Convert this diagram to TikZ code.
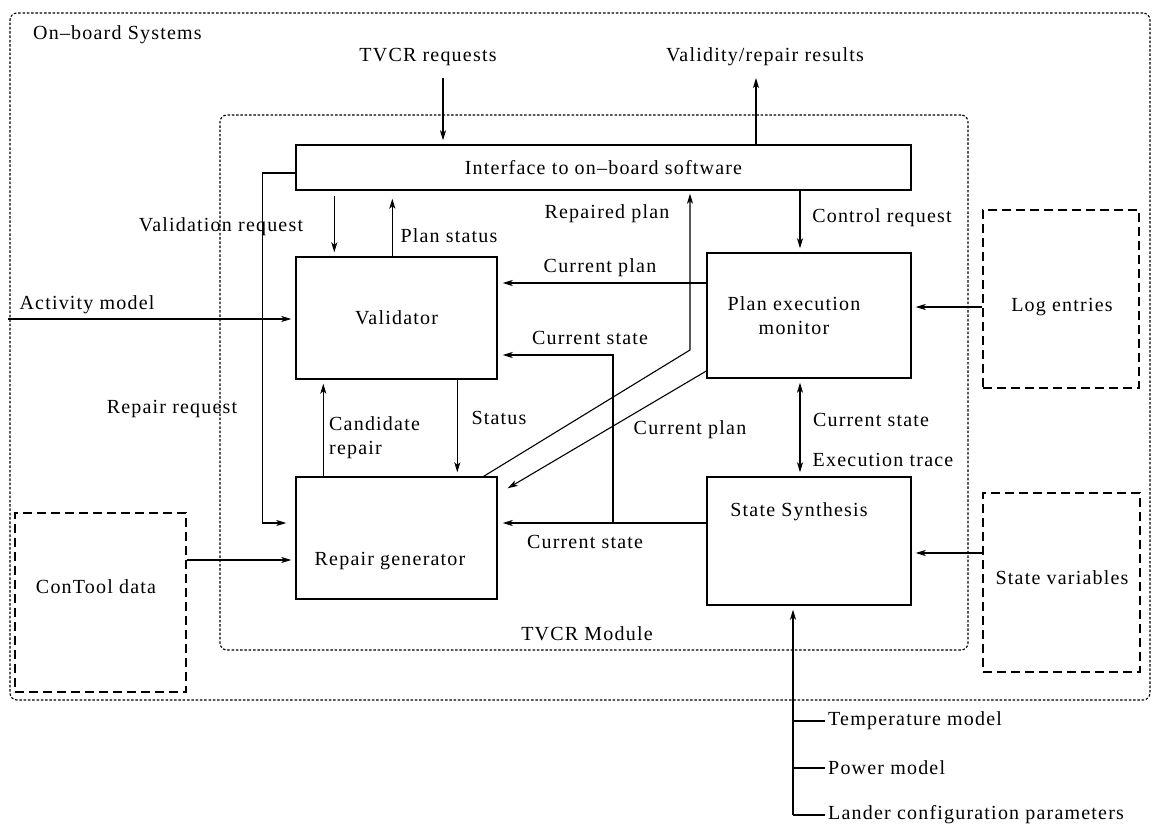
\documentclass[tikz,border=0pt]{standalone}
\usepackage{fontspec}
\setmainfont{Liberation Serif}[LetterSpace=6]
\usetikzlibrary{arrows.meta}
\begin{document}
\begin{tikzpicture}[x=1pt,y=-1pt,
  txt/.style={font=\fontsize{20pt}{24pt}\selectfont, inner sep=3pt},
  box/.style={draw, line width=1.4pt, inner sep=0pt, font=\fontsize{20pt}{24pt}\selectfont},
  extbox/.style={draw, line width=1.4pt, dash pattern=on 9pt off 5pt, inner sep=0pt},
  region/.style={draw, line width=1.1pt, dash pattern=on 2.5pt off 1.8pt, rounded corners=7pt, inner sep=0pt},
  arr/.style={-{Stealth[length=10pt,width=6pt,inset=2.5pt]}, line width=1.1pt, shorten >=4pt},
  biarr/.style={{Stealth[length=10pt,width=6pt,inset=2.5pt]}-{Stealth[length=10pt,width=6pt,inset=2.5pt]}, line width=1.1pt, shorten >=4pt, shorten <=4pt},
  wire/.style={line width=1.1pt}]
\useasboundingbox (0,0) rectangle (1152,827);

% enclosing regions
\node[region, minimum width=1140pt, minimum height=687pt] (onboard) at (580,356.5) {};
\node[region, minimum width=748pt, minimum height=535pt] (module) at (594,382.5) {};
\node[txt, anchor=west] (onboardlbl) at (30,35) {On–board Systems};
\node[txt] (modulelbl) at (587,634) {TVCR Module};

% main components
\node[box, minimum width=615pt, minimum height=45pt] (iface) at (603.5,167.5) {Interface to on–board software};
\node[box, minimum width=201pt, minimum height=122pt] (val) at (396.5,318) {Validator};
\node[box, minimum width=201pt, minimum height=122pt] (rg) at (396.5,538) {};
\node[txt] (rgtxt) at (390,561) {Repair generator};
\node[box, minimum width=204pt, minimum height=125pt] (pem) at (809,315.5) {};
\node[txt, align=center] (pemtxt) at (794,316) {Plan execution\\monitor};
\node[box, minimum width=204pt, minimum height=128pt] (ss) at (809,541) {};
\node[txt] (sstxt) at (799,512) {State Synthesis};

% external data sources
\node[extbox, minimum width=156pt, minimum height=178pt] (logbox) at (1061,299) {};
\node[txt] (logtxt) at (1062,307) {Log entries};
\node[extbox, minimum width=157pt, minimum height=179pt] (svbox) at (1061.5,582.5) {};
\node[txt] (svtxt) at (1062,578) {State variables};
\node[extbox, minimum width=171pt, minimum height=179pt] (ctbox) at (100.5,602.5) {};
\node[txt] (cttxt) at (96,587) {ConTool data};

% requests and results at the top
\node[txt] (tvcrlbl) at (428,57) {TVCR requests};
\node[txt] (vrlbl) at (765,57) {Validity/repair results};
\coordinate (tvcrin) at (443,78);
\draw[arr] (tvcrin) -- (tvcrin |- iface.north);
\coordinate (vrout) at (756,78);
\draw[arr, shorten >=0pt] (vrout |- iface.north) -- (vrout);

% interface <-> validator
\draw[arr, shorten <=5pt] ([xshift=39pt]iface.south west) -- ([xshift=39pt]val.north west);
\node[txt] (vreqlbl) at (221,227) {Validation request};
\draw[arr, shorten >=8pt] ([xshift=97pt]val.north west) -- ([xshift=97pt]iface.south west);
\node[txt] (pslbl) at (449,236) {Plan status};

% repair request
\draw[arr, shorten >=9pt] ([yshift=-5.5pt]iface.west) -- ++(-33,0) |- ([yshift=15pt]rg.west);
\node[txt] (rreqlbl) at (172,409) {Repair request};

% activity model
\coordinate (amin) at (8,319);
\draw[arr] (amin) -- (amin -| val.west);
\node[txt] (amlbl) at (87,305) {Activity model};

% ConTool data
\coordinate (ctout) at ([yshift=42.5pt]ctbox.east);
\draw[arr] (ctout) -- (ctout -| rg.west);

% validator <-> repair generator
\draw[arr] ([xshift=28pt]rg.north west) -- ([xshift=28pt]val.south west);
\node[txt, align=left, anchor=west] (crlbl) at (326,438) {Candidate\\repair};
\draw[arr] ([xshift=162pt]val.south west) -- ([xshift=162pt]rg.north west);
\node[txt] (stlbl) at (499,418) {Status};

% current plan to validator
\coordinate (cp1) at ([yshift=32.5pt]pem.west);
\draw[arr, shorten >=5pt] (cp1) -- (cp1 -| val.east);
\node[txt] (cp1lbl) at (600,268) {Current plan};

% repaired plan to interface
\coordinate (rpbend) at (690,350);
\draw[arr, shorten >=3pt] ([xshift=-14pt]rg.north east) -- (rpbend) -- (rpbend |- iface.south);
\node[txt] (rplbl) at (607,214) {Repaired plan};

% current plan to repair generator
\coordinate (cp2) at ([yshift=-55.5pt]pem.west);
\coordinate (cp2end) at ([xshift=10pt,yshift=-12pt]rg.north east);
\draw[arr, shorten >=0pt] (cp2) -- (cp2end);
\node[txt] (cp2lbl) at (690,430) {Current plan};

% current state from state synthesis
\coordinate (cs) at ([yshift=18pt]ss.west);
\draw[arr, shorten >=5pt] (cs) -- (cs -| rg.east);
\node[txt] (cs1lbl) at (585,542) {Current state};
\coordinate (csv) at (613,355);
\draw[arr, shorten >=5pt] (csv |- cs) -- (csv) -- (csv -| val.east);
\node[txt] (cs2lbl) at (590,338) {Current state};

% monitor <-> state synthesis
\draw[biarr] ([xshift=-9pt]pem.south) -- ([xshift=-9pt]ss.north);
\node[txt] (cs3lbl) at (871,420) {Current state};
\node[txt] (etlbl) at (883,460) {Execution trace};

% control request
\coordinate (crx) at ([xshift=-9pt]pem.north);
\draw[arr] (crx |- iface.south) -- (crx);
\node[txt] (ctrllbl) at (882,218) {Control request};

% log entries and state variables
\coordinate (leout) at ([yshift=-8pt]logbox.west);
\draw[arr] (leout) -- (leout -| pem.east);
\coordinate (svout) at ([yshift=29.5pt]svbox.west);
\draw[arr] (svout) -- (svout -| ss.east);

% models feeding state synthesis
\node[txt, anchor=west] (temp) at (825,721) {Temperature model};
\node[txt, anchor=west] (power) at (825,768) {Power model};
\node[txt, anchor=west] (lander) at (825,815) {Lander configuration parameters};
\coordinate (busend) at ([xshift=-16pt]ss.south |- lander.west);
\draw[arr] (busend) -- (busend |- ss.south);
\draw[wire] (busend) -- (lander.west);
\draw[wire] (busend |- temp.west) -- (temp.west);
\draw[wire] (busend |- power.west) -- (power.west);
\end{tikzpicture}
\end{document}
